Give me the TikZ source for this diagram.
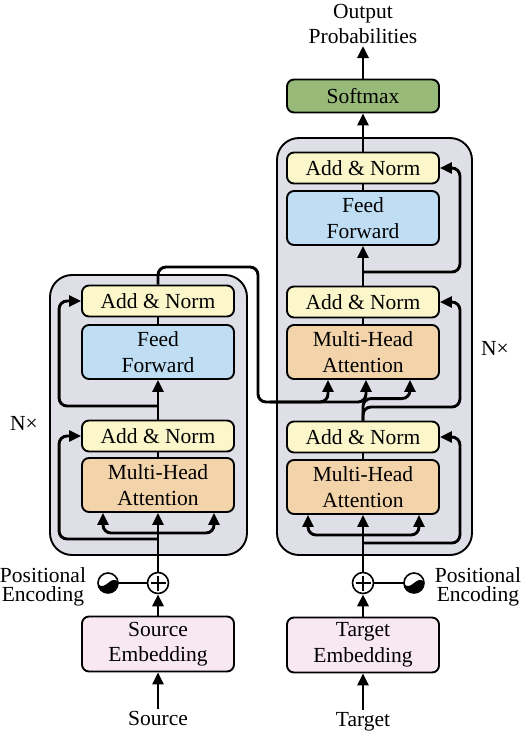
\documentclass[tikz,border=0pt]{standalone}
\usepackage{fontspec}
\setmainfont{Liberation Serif}
\usetikzlibrary{arrows.meta,positioning,calc}
\definecolor{stackfill}{RGB}{223,223,231}
\definecolor{normfill}{RGB}{251,247,203}
\definecolor{fffill}{RGB}{191,222,244}
\definecolor{attnfill}{RGB}{242,211,170}
\definecolor{embfill}{RGB}{248,232,241}
\definecolor{smfill}{RGB}{152,186,120}
\tikzset{
  stackbox/.style={draw, line width=1.9pt, rounded corners=22pt, fill=stackfill},
  blockbox/.style={draw, line width=1.9pt, rounded corners=7pt, minimum width=152pt, align=center, inner sep=0pt},
  normbox/.style={blockbox, fill=normfill, minimum height=31pt},
  ffbox/.style={blockbox, fill=fffill, minimum height=54pt},
  attnbox/.style={blockbox, fill=attnfill, minimum height=54pt},
  embbox/.style={blockbox, fill=embfill, minimum height=55pt},
  smbox/.style={blockbox, fill=smfill, minimum height=33pt},
  addcirc/.style={circle, draw, fill=white, line width=1.6pt, minimum size=21pt, inner sep=0pt,
    path picture={\draw[line width=1.4pt]
      ([yshift=-3pt]path picture bounding box.north) -- ([yshift=3pt]path picture bounding box.south)
      ([xshift=3pt]path picture bounding box.west) -- ([xshift=-3pt]path picture bounding box.east);}},
  pecirc/.style={circle, minimum size=20pt, inner sep=0pt},
  txt/.style={inner sep=2pt, align=center},
  petxt/.style={txt, inner sep=0pt, font=\fontsize{21.5}{19.5}\selectfont},
  flowln/.style={-{Triangle[length=12pt,width=11pt]}, line width=2.9pt},
  plainln/.style={line width=2.9pt},
  skipln/.style={flowln, rounded corners=8pt},
}
\newcommand{\possym}[1]{%
  \begin{scope}[shift={#1}]
    \fill[white] (0,0) circle (10);
    \begin{scope}
      \clip (0,0) circle (10);
      \fill[black] (-10,1) .. controls (-3,9) and (3,-9) .. (10,-1) -- (10,12) -- (-10,12) -- cycle;
    \end{scope}
    \draw[line width=1.6pt] (0,0) circle (10);
  \end{scope}
}

\begin{document}
\begin{tikzpicture}[x=1pt, y=-1pt, font=\fontsize{21.5}{25.5}\selectfont]
  \useasboundingbox (0,0) rectangle (522,732);
  % Layer stacks
  \draw[stackbox] (50,275) rectangle (247,555);
  \draw[stackbox] (277,138) rectangle (472,555);
  \node[txt] (enc_n) at (24,423) {N×};
  \node[txt] (dec_n) at (495,348) {N×};

  % Encoder
  \node[txt, anchor=base] (src) at (158,725) {Source};
  \node[embbox] (enc_emb) at (158,644) {Source\\Embedding};
  \node[addcirc] (enc_add) at (158,583) {};
  \node[pecirc] (enc_pe) at (108,583) {};
  \node[petxt] (enc_pe_txt) at (43,587) {Positional\\Encoding};
  \node[attnbox] (enc_mha) at (158,485) {Multi-Head\\Attention};
  \node[normbox] (enc_an1) at (158,436) {Add \& Norm};
  \node[ffbox] (enc_ff) at (158,352) {Feed\\Forward};
  \node[normbox] (enc_an2) at (158,301) {Add \& Norm};

  % Decoder
  \node[txt, anchor=base] (tgt) at (363,726) {Target};
  \node[embbox] (dec_emb) at (363,645) {Target\\Embedding};
  \node[addcirc] (dec_add) at (363,583) {};
  \node[pecirc] (dec_pe) at (414,583) {};
  \node[petxt] (dec_pe_txt) at (478,587) {Positional\\Encoding};
  \node[attnbox] (dec_mha1) at (363,487) {Multi-Head\\Attention};
  \node[normbox] (dec_an1) at (363,437) {Add \& Norm};
  \node[attnbox] (dec_mha2) at (363,352) {Multi-Head\\Attention};
  \node[normbox] (dec_an2) at (363,302) {Add \& Norm};
  \node[ffbox] (dec_ff) at (363,218) {Feed\\Forward};
  \node[normbox] (dec_an3) at (363,168) {Add \& Norm};
  \node[smbox] (softmax) at (363,96) {Softmax};
  \node[txt, anchor=south] (outp) at (363,46) {Output\\Probabilities};

  % Encoder connections
  \draw[flowln] (src.north) -- (enc_emb.south);
  \draw[flowln] (enc_emb.north) -- (enc_add.south);
  \draw[plainln] (enc_pe) -- (enc_add);
  \possym{(enc_pe)}
  \draw[flowln] (enc_add.north) -- (enc_mha.south);
  \coordinate (enc_fork) at (158,533);
  \coordinate (enc_tap1) at (158,539);
  \coordinate (enc_tap2) at (158,406);
  \draw[skipln] (enc_fork) -| ([xshift=-55pt]enc_mha.south);
  \draw[skipln] (enc_fork) -| ([xshift=56pt]enc_mha.south);
  \draw[skipln] (enc_tap1) -| ([xshift=-22pt]enc_an1.west) -- (enc_an1.west);
  \draw[plainln] (enc_mha.north) -- (enc_an1.south);
  \draw[flowln] (enc_an1.north) -- (enc_ff.south);
  \draw[skipln] (enc_tap2) -| ([xshift=-22pt]enc_an2.west) -- (enc_an2.west);
  \draw[plainln] (enc_ff.north) -- (enc_an2.south);

  % Encoder output into cross attention
  \coordinate (enc_out) at (258,267);
  \coordinate (enc_bend) at (258,402);
  \draw[skipln] (enc_an2.north) |- (enc_out) -- (enc_bend) -| ([xshift=-35pt]dec_mha2.south);
  \draw[skipln] ([xshift=12pt]enc_bend) -| ([xshift=3pt]dec_mha2.south);

  % Decoder connections
  \draw[flowln] (tgt.north) -- (dec_emb.south);
  \draw[flowln] (dec_emb.north) -- (dec_add.south);
  \draw[plainln] (dec_pe) -- (dec_add);
  \possym{(dec_pe)}
  \draw[flowln] (dec_add.north) -- (dec_mha1.south);
  \coordinate (dec_fork) at (363,535);
  \coordinate (dec_tap1) at (363,543);
  \draw[skipln] (dec_fork) -| ([xshift=-55pt]dec_mha1.south);
  \draw[skipln] (dec_fork) -| ([xshift=56pt]dec_mha1.south);
  \draw[skipln] (dec_tap1) -| ([xshift=20pt]dec_an1.east) -- (dec_an1.east);
  \draw[plainln] (dec_mha1.north) -- (dec_an1.south);
  \coordinate (dec_tap2) at (363,407);
  \draw[skipln] (dec_an1.north) -- (dec_tap2) -| ([xshift=20pt]dec_an2.east) -- (dec_an2.east);
  \draw[skipln] (dec_an1.north) -- ++(0,-22) -| ([xshift=47pt]dec_mha2.south);
  \draw[plainln] (dec_mha2.north) -- (dec_an2.south);
  \draw[flowln] (dec_an2.north) -- (dec_ff.south);
  \coordinate (dec_tap3) at (363,272);
  \draw[skipln] (dec_tap3) -| ([xshift=20pt]dec_an3.east) -- (dec_an3.east);
  \draw[plainln] (dec_ff.north) -- (dec_an3.south);
  \draw[flowln] (dec_an3.north) -- (softmax.south);
  \draw[flowln] (softmax.north) -- (outp.south);
\end{tikzpicture}
\end{document}
